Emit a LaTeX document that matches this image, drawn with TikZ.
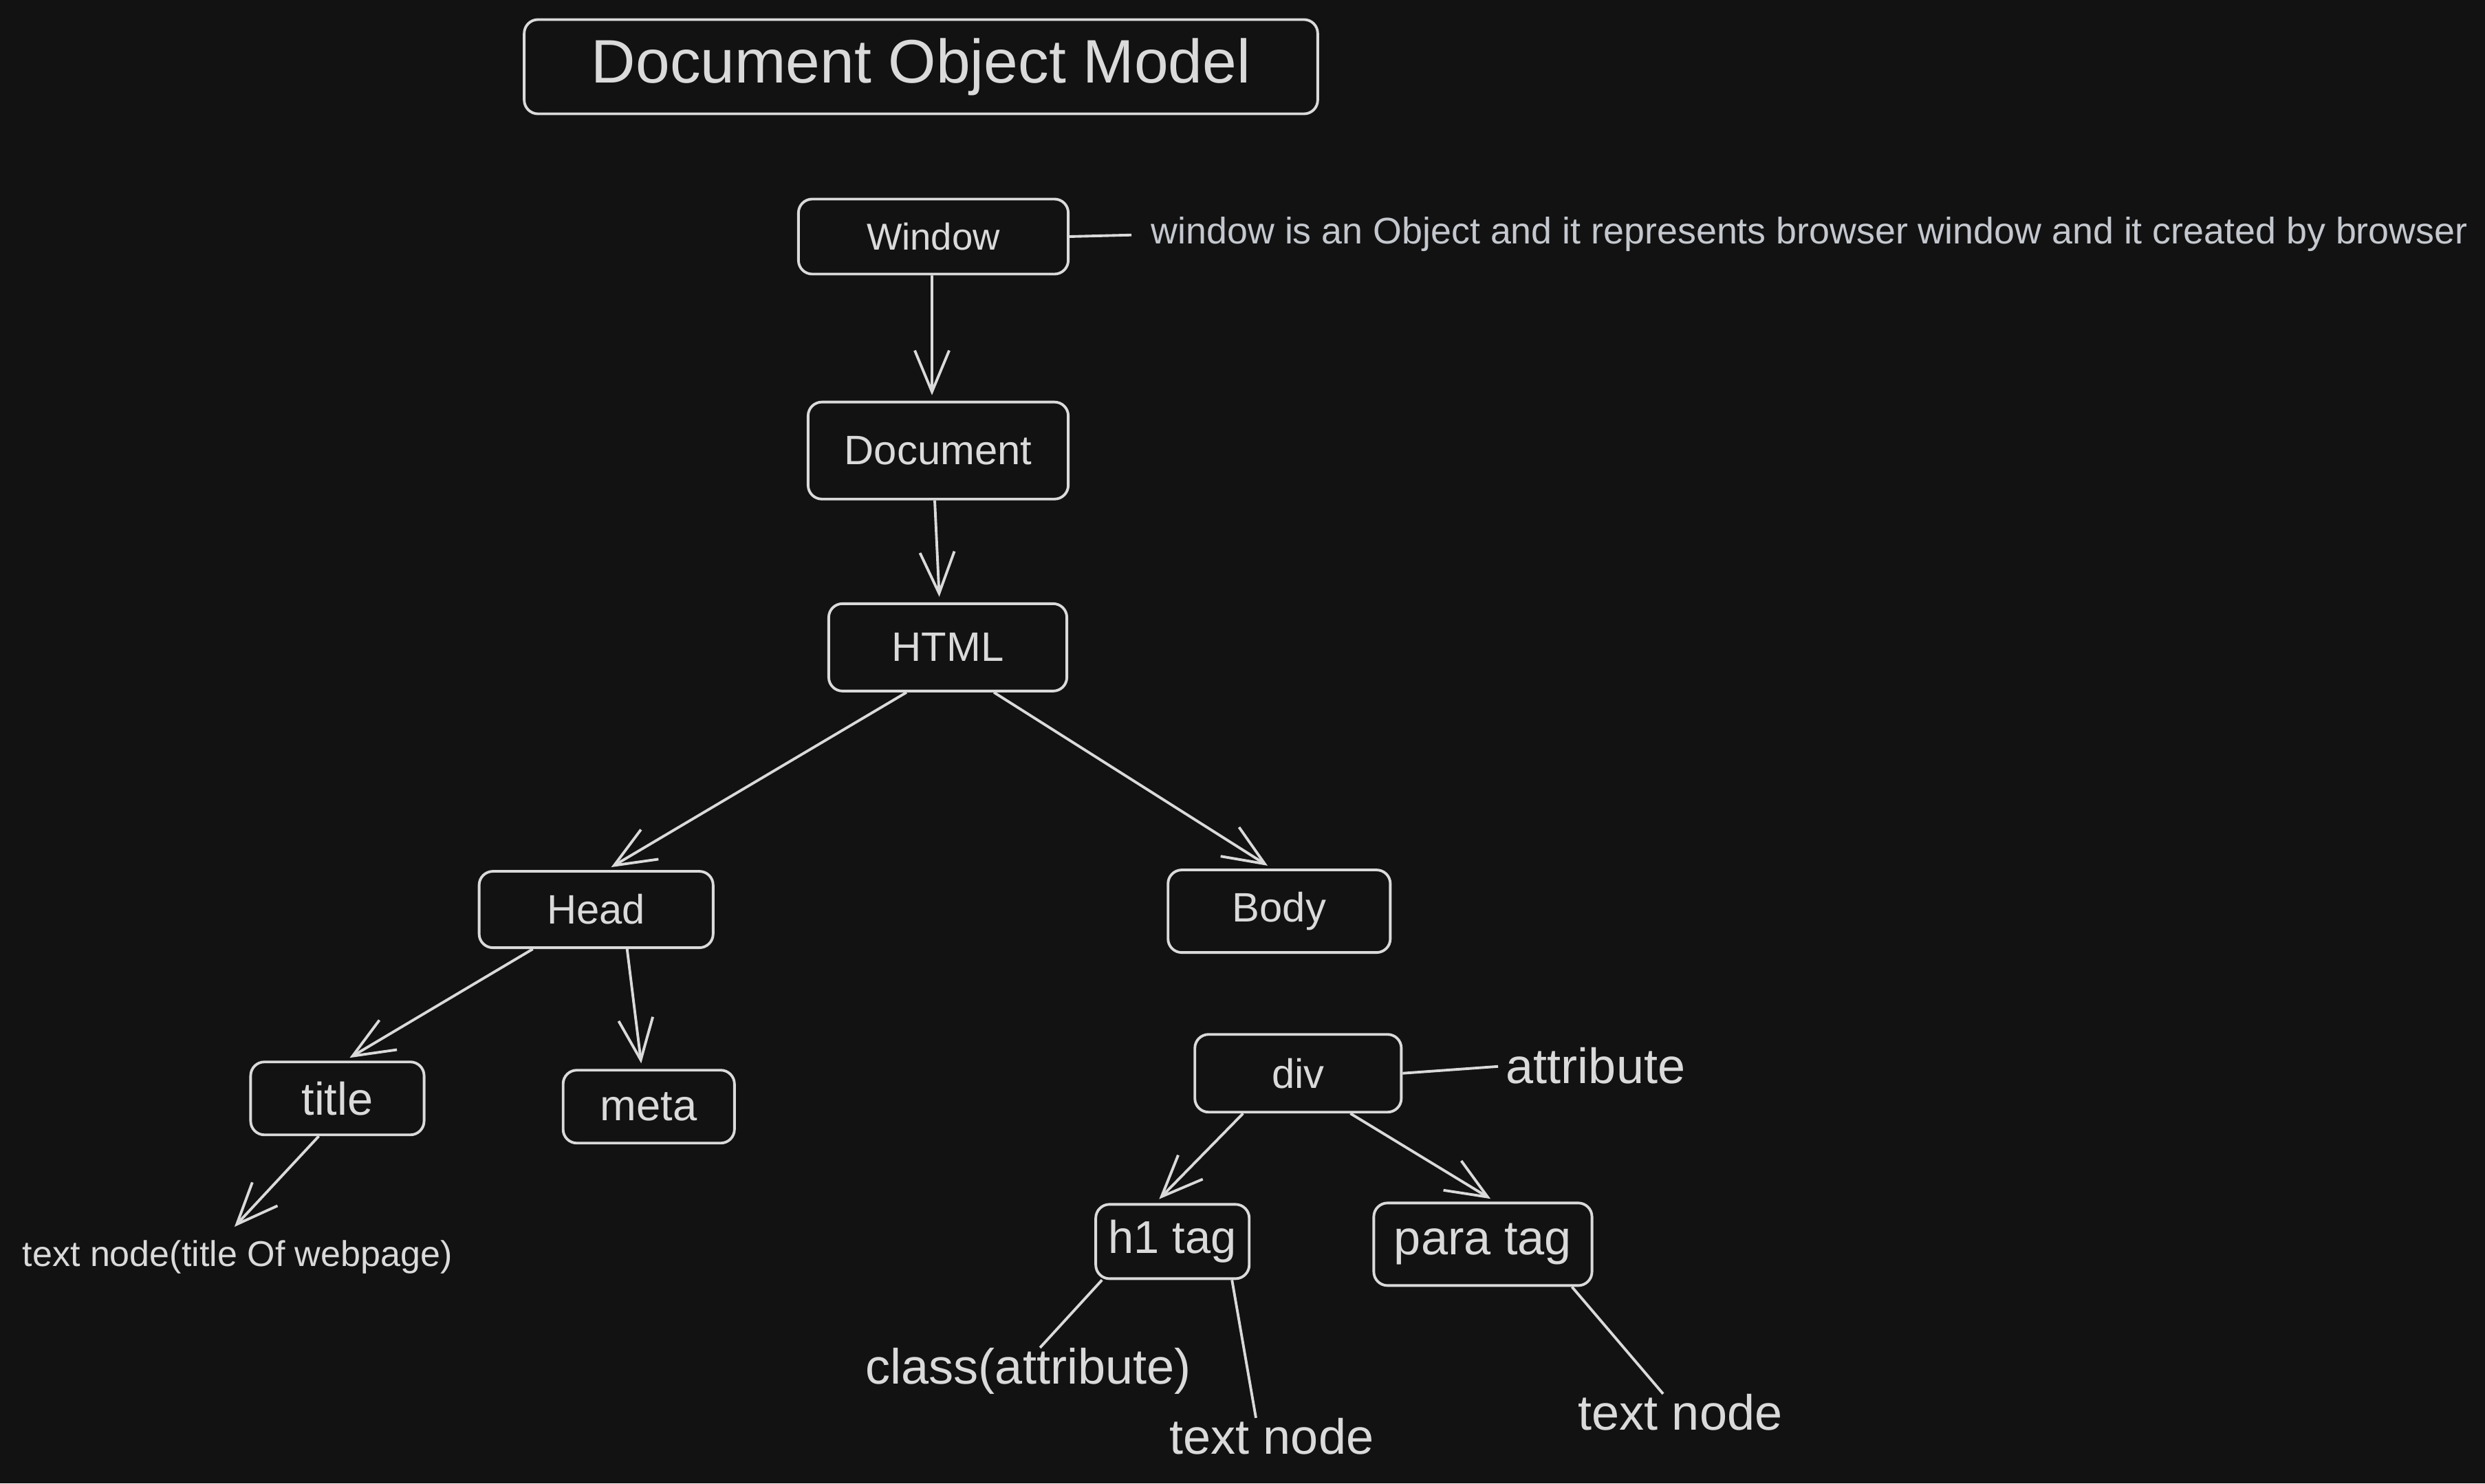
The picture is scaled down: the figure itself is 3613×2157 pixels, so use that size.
\documentclass[tikz,border=0pt]{standalone}
\usepackage{fontspec}
\setmainfont{Liberation Sans}
\usetikzlibrary{arrows.meta}
\usetikzlibrary{positioning}

\definecolor{bg}{HTML}{121212}
\definecolor{ink}{HTML}{DADADA}
\definecolor{noteink}{HTML}{C4C8CE}

\begin{document}
\begin{tikzpicture}[x=0.01cm,y=-0.01cm,on grid,
        box/.style={draw=ink, line width=1.1pt, rounded corners=0.2cm, text=ink,
            inner sep=0pt, font=\fontsize{17}{20}\selectfont},
        note/.style={text=ink, inner sep=0pt, anchor=west, font=\fontsize{20.5}{23}\selectfont},
        link/.style={draw=ink, line width=1.1pt},
        arr/.style={link, shorten >=0.08cm, -{Straight Barb[length=0.6cm, width=0.5cm, line width=1.1pt]}}]
    \useasboundingbox (0,0) rectangle (3613,2157);
    \fill[bg] (0,0) rectangle (3613,2157);

    \node[box, minimum width=11.53cm, minimum height=1.37cm, font=\fontsize{25.4}{28}\selectfont] (dom) at (1339,97) {Document Object Model};

    \node[box, minimum width=3.92cm, minimum height=1.09cm, font=\fontsize{15.5}{18}\selectfont] (win) at (1357,344) {Window};
    \node[box, minimum width=3.78cm, minimum height=1.41cm] (doc) [below right=3.11cm and 0.07cm of win] {Document};
    \node[box, minimum width=3.46cm, minimum height=1.27cm] (html) [below right=2.86cm and 0.14cm of doc] {HTML};
    \node[box, minimum width=3.40cm, minimum height=1.11cm] (head) [below left=3.81cm and 5.11cm of html] {Head};
    \node[box, minimum width=3.23cm, minimum height=1.20cm] (body) [below right=3.835cm and 4.815cm of html] {Body};
    \node[box, minimum width=2.52cm, minimum height=1.06cm, font=\fontsize{19}{22}\selectfont] (ttl) [below left=2.745cm and 3.76cm of head] {title};
    \node[box, minimum width=2.49cm, minimum height=1.06cm, font=\fontsize{18}{21}\selectfont] (meta) [below right=2.865cm and 0.765cm of head] {meta};
    \node[box, minimum width=3.00cm, minimum height=1.13cm] (div) [below right=2.355cm and 0.275cm of body] {div};
    \node[box, minimum width=2.23cm, minimum height=1.08cm, font=\fontsize{19}{22}\selectfont] (h1) [below left=2.445cm and 1.825cm of div] {h1 tag};
    \node[box, minimum width=3.17cm, minimum height=1.20cm, font=\fontsize{20}{23}\selectfont] (para) [below right=2.485cm and 2.685cm of div] {para tag};

    % notes
    \node[note, text=noteink, font=\fontsize{15.3}{18}\selectfont] (winnote) at (1673,341) {window is an Object and it represents browser window and it created by browser};
    \node[note, font=\fontsize{14.8}{17}\selectfont] (tntitle) at (32,1828) {text node(title Of webpage)};
    \node[note] (attr) at (2189,1550) {attribute};
    \node[note] (cls) at (1258,1994) {class(attribute)};
    \node[note] (tnh) at (1700,2089) {text node};
    \node[note] (tnp) at (2294,2054) {text node};

    % tree
    \draw[arr] ([xshift=-0.02cm]win.south) -- ([xshift=-0.09cm]doc.north);
    \draw[arr] ([xshift=-0.05cm]doc.south) -- ([xshift=-0.12cm]html.north);
    \draw[arr] ([xshift=-0.6cm]html.south) -- ([xshift=0.15cm]head.north);
    \draw[arr] ([xshift=0.67cm]html.south) -- ([xshift=-0.1cm]body.north);
    \draw[arr] ([xshift=-0.92cm]head.south) -- ([xshift=0.11cm]ttl.north);
    \draw[arr] ([xshift=0.45cm]head.south) -- ([xshift=-0.1cm]meta.north);
    \draw[arr, shorten >=0.26cm] ([xshift=-0.27cm]ttl.south) -- ([xshift=-0.22cm]tntitle.north);
    \draw[arr] ([xshift=-0.8cm]div.south) -- ([xshift=-0.25cm]h1.north);
    \draw[arr] ([xshift=0.76cm]div.south) -- ([xshift=0.18cm]para.north);

    % plain lines
    \draw[link, shorten >=0.28cm] (win.east) -- (winnote.west);
    \draw[link, shorten >=0.11cm] (div.east) -- (attr.west);
    \draw[link] ([xshift=0.11cm]h1.south west) -- ([xshift=0.17cm]cls.north);
    \draw[link] ([xshift=-0.27cm]h1.south east) -- ([xshift=-0.23cm]tnh.north);
    \draw[link] ([xshift=-0.31cm]para.south east) -- ([xshift=-0.25cm]tnp.north);
\end{tikzpicture}
\end{document}
